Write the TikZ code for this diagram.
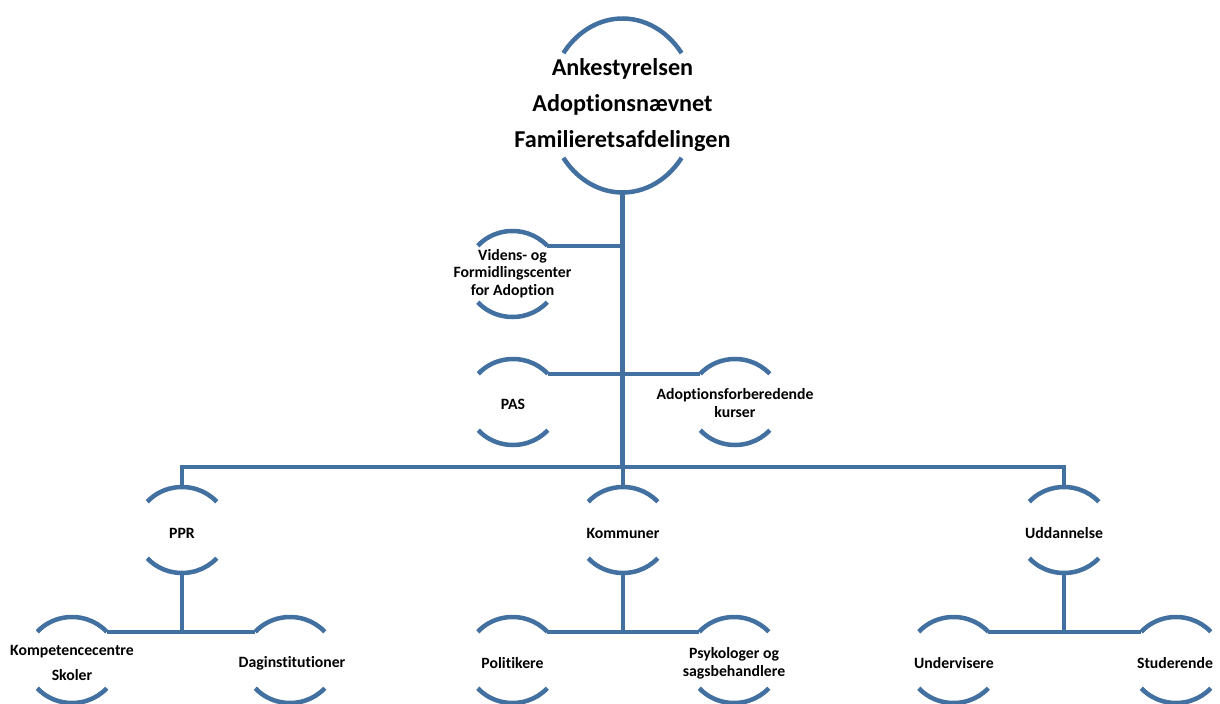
\documentclass[tikz,border=0pt]{standalone}
\usepackage{fontspec}
\setmainfont[Ligatures=NoCommon]{Carlito}
\usetikzlibrary{calc,shapes.geometric}
\definecolor{lineblue}{RGB}{66,112,160}
\tikzset{
  ln/.style={draw=lineblue, line width=4.5bp},
  ring/.style={ellipse, inner sep=0pt, outer sep=0pt, minimum width=92bp, minimum height=86bp},
  bigring/.style={ellipse, inner sep=0pt, outer sep=0pt, minimum width=148bp, minimum height=174bp},
  txt/.style={align=center, inner sep=0pt, font=\bfseries\fontsize{15.8}{17.8}\selectfont},
  bigtxt/.style={align=center, inner sep=0pt, font=\bfseries\fontsize{24.3}{36}\selectfont},
}
\newcommand\ringarcs[4]{%
  \draw[ln] ($(#1.center)+(#4:#2 and #3)$) arc[start angle=#4, end angle=180-#4, x radius=#2, y radius=#3];
  \draw[ln] ($(#1.center)+(-#4:#2 and #3)$) arc[start angle=-#4, end angle=-180+#4, x radius=#2, y radius=#3];
  \coordinate (#1-ne) at ($(#1.center)+(#4:#2 and #3)$);
  \coordinate (#1-nw) at ($(#1.center)+(180-#4:#2 and #3)$);
}
\begin{document}
\begin{tikzpicture}[x=1bp, y=-1bp]
\useasboundingbox (0,0) rectangle (1220,704);
% nodes
\node[bigring] (top) at (622.5,105.5) {};
\node[ring] (vid) at (512.5,274) {};
\node[ring] (pas) at (513,402) {};
\node[ring] (afk) at (735,402) {};
\node[ring] (ppr) at (182,530) {};
\node[ring] (kom) at (623,530) {};
\node[ring] (udd) at (1064,530) {};
\node[ring] (kc) at (72,660) {};
\node[ring] (dag) at (290,660) {};
\node[ring] (pol) at (512.5,660) {};
\node[ring] (psy) at (734,660) {};
\node[ring] (und) at (953.5,660) {};
\node[ring] (stu) at (1176,660) {};
% arcs
\ringarcs{top}{74bp}{87bp}{37}
\foreach \n in {vid,pas,afk,ppr,kom,udd,kc,dag,pol,psy,und,stu}{\ringarcs{\n}{46bp}{43bp}{41}}
% texts
\node[bigtxt] (top-t) at (622.5,105) {Ankestyrelsen\\Adoptionsnævnet\\Familieretsafdelingen};
\node[txt] (vid-t) at (512.5,273.5) {Videns- og\\Formidlingscenter\\for Adoption};
\node[txt] (pas-t) at (513,404) {PAS};
\node[txt] (afk-t) at (735,403) {Adoptionsforberedende\\kurser};
\node[txt] (ppr-t) at (182,533) {PPR};
\node[txt] (kom-t) at (623,533) {Kommuner};
\node[txt] (udd-t) at (1064,533) {Uddannelse};
\node[txt, font=\bfseries\fontsize{15.8}{25}\selectfont] (kc-t) at (72,662.5) {Kompetencecentre\\Skoler};
\node[txt] (dag-t) at (292,663) {Daginstitutioner};
\node[txt] (pol-t) at (512.5,663) {Politikere};
\node[txt] (psy-t) at (734,663) {Psykologer og\\sagsbehandlere};
\node[txt] (und-t) at (954,663) {Undervisere};
\node[txt] (stu-t) at (1175,663) {Studerende};
% connectors
\coordinate (bus) at (622.5,467);
\draw[ln] (top.south) -- (bus);
\draw[ln] (vid-ne) -- (vid-ne -| top.south);
\draw[ln] (pas-ne) -- (afk-nw);
\draw[ln] (ppr.north) |- (bus) -| (udd.north);
\draw[ln] (kom.north) -- (kom.north |- bus);
\draw[ln] (ppr.south) -- (ppr.south |- kc-ne);
\draw[ln] (kc-ne) -- (dag-nw);
\draw[ln] (kom.south) -- (kom.south |- pol-ne);
\draw[ln] (pol-ne) -- (psy-nw);
\draw[ln] (udd.south) -- (udd.south |- und-ne);
\draw[ln] (und-ne) -- (stu-nw);
\end{tikzpicture}
\end{document}
